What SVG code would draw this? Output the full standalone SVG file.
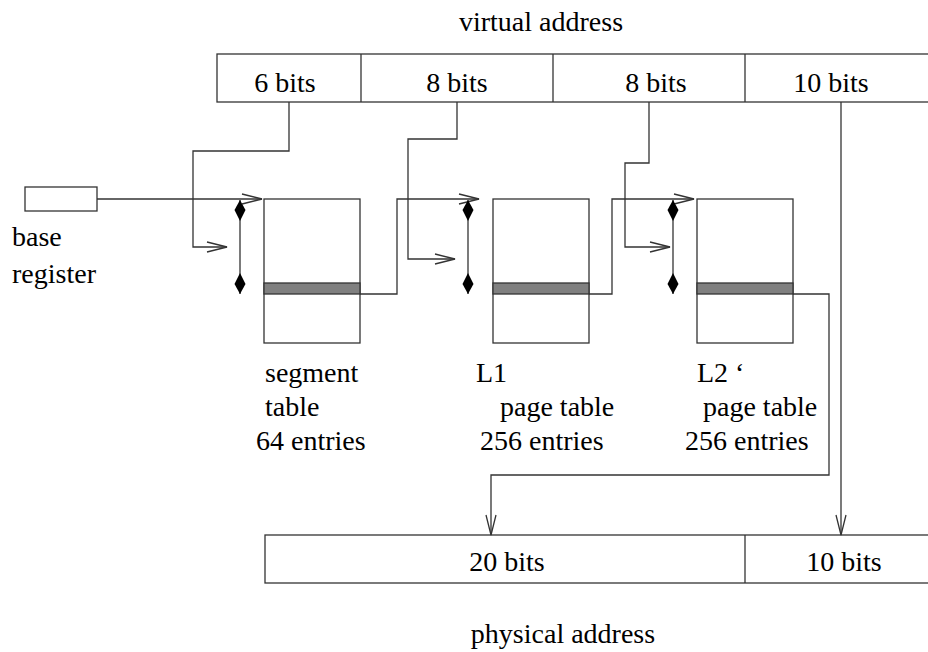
<svg xmlns="http://www.w3.org/2000/svg" width="928" height="652" viewBox="0 0 928 652">
<defs>
<marker id="open" markerUnits="userSpaceOnUse" markerWidth="24" markerHeight="14" refX="0" refY="0" orient="auto" overflow="visible">
<path d="M-20,-5 L0,0 L-20,5" fill="none" stroke="#333" stroke-width="1.3"/>
</marker>
<marker id="diam" markerUnits="userSpaceOnUse" markerWidth="24" markerHeight="14" refX="0" refY="0" orient="auto-start-reverse" overflow="visible">
<path d="M0,0 L-10,-5.5 L-21,0 L-10,5.5 Z" fill="#000" stroke="none"/>
</marker>
</defs>
<style>
.ln{fill:none;stroke:#333;stroke-width:1.3}
.bx{fill:#fff;stroke:#333;stroke-width:1.3}
.sh{fill:#808080;stroke:#333;stroke-width:1.3}
.c{text-anchor:middle}
</style>
<rect width="928" height="652" fill="#fff"/>
<g font-family="'Liberation Serif', 'Times New Roman', 'DejaVu Serif', serif" font-size="28" fill="#000">

<text class="c" x="541" y="31">virtual address</text>

<g id="virtual-address">
<rect class="bx" x="217" y="54" width="730" height="48"/>
<line class="ln" x1="361" y1="54" x2="361" y2="102"/>
<line class="ln" x1="553" y1="54" x2="553" y2="102"/>
<line class="ln" x1="745" y1="54" x2="745" y2="102"/>
<text class="c" x="285" y="92">6 bits</text>
<text class="c" x="457" y="92">8 bits</text>
<text class="c" x="656" y="92">8 bits</text>
<text class="c" x="831" y="92">10 bits</text>
</g>

<g id="base-register">
<rect class="bx" x="25" y="187" width="72" height="24"/>
<text x="12" y="246">base</text>
<text x="12" y="283">register</text>
</g>

<g id="segment-table">
<rect class="bx" x="264" y="199" width="96" height="144"/>
<rect class="sh" x="264" y="283" width="96" height="11"/>
<text x="265" y="382">segment</text>
<text x="265" y="416">table</text>
<text x="256" y="450">64 entries</text>
</g>

<g id="l1-page-table">
<rect class="bx" x="493" y="199" width="96" height="144"/>
<rect class="sh" x="493" y="283" width="96" height="11"/>
<text x="476" y="382">L1</text>
<text x="500" y="416">page table</text>
<text x="480" y="450">256 entries</text>
</g>

<g id="l2-page-table">
<rect class="bx" x="697" y="199" width="96" height="144"/>
<rect class="sh" x="697" y="283" width="96" height="11"/>
<text x="697" y="382">L2 ‘</text>
<text x="703" y="416">page table</text>
<text x="685" y="450">256 entries</text>
</g>

<g id="physical-address">
<rect class="bx" x="265" y="535" width="680" height="48"/>
<line class="ln" x1="745" y1="535" x2="745" y2="583"/>
<text class="c" x="507" y="571">20 bits</text>
<text class="c" x="844" y="571">10 bits</text>
</g>

<text class="c" x="563" y="643">physical address</text>
</g>

<g id="connectors">
<polyline class="ln" points="97,199 262,199" marker-end="url(#open)"/>
<polyline class="ln" points="289,102 289,151 193,151 193,247 227,247" marker-end="url(#open)"/>
<line class="ln" x1="240" y1="200" x2="240" y2="294" marker-start="url(#diam)" marker-end="url(#diam)"/>

<polyline class="ln" points="360,294 397,294 397,199 479,199" marker-end="url(#open)"/>
<polyline class="ln" points="457,102 457,139 408,139 408,259 455,259" marker-end="url(#open)"/>
<line class="ln" x1="468" y1="200" x2="468" y2="294" marker-start="url(#diam)" marker-end="url(#diam)"/>

<polyline class="ln" points="589,294 612,294 612,199 694,199" marker-end="url(#open)"/>
<polyline class="ln" points="649,102 649,163 625,163 625,247 670,247" marker-end="url(#open)"/>
<line class="ln" x1="673" y1="200" x2="673" y2="294" marker-start="url(#diam)" marker-end="url(#diam)"/>

<polyline class="ln" points="793,294 829,294 829,475 491,475 491,535" marker-end="url(#open)"/>
<polyline class="ln" points="841,102 841,535" marker-end="url(#open)"/>
</g>
</svg>
